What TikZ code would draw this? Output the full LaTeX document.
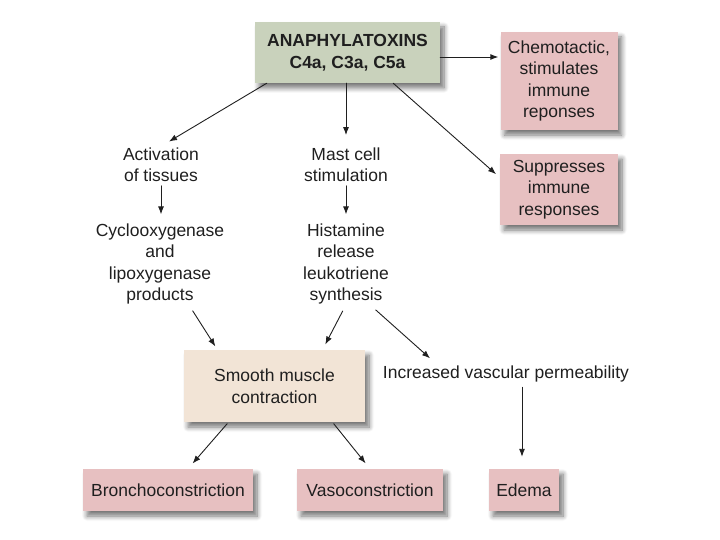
\documentclass[tikz,border=0pt]{standalone}
\usepackage{fontspec}
\setmainfont{Liberation Sans}
\usetikzlibrary{calc, positioning}
\usetikzlibrary{arrows.meta}
\usetikzlibrary{shadows.blur}

\begin{document}
\begin{tikzpicture}[x=1pt, y=-1pt, line join=round, line cap=round,
    txt/.style={align=center, inner sep=2pt, text=inkdark,
        font=\fontsize{17.5}{21.5}\selectfont},
    boxed/.style={txt, inner sep=0pt,
        blur shadow={shadow xshift=4pt, shadow yshift=-5pt,
            shadow blur steps=8, shadow blur radius=5pt,
            shadow opacity=55}},
    arr/.style={-{Latex[length=8pt, width=6pt]}, line width=0.9pt, inkdark}]
\colorlet{inkdark}{black!88}
\definecolor{boxgreen}{HTML}{C9D2BC}
\definecolor{boxpink}{HTML}{E7C0C1}
\definecolor{boxbeige}{HTML}{F2E4D6}

\useasboundingbox (0,0) rectangle (720,540);

% top row
\node[boxed, fill=boxgreen, minimum width=185pt, minimum height=61pt,
    font=\fontsize{17.5}{21.5}\selectfont\bfseries] (anaph) at (347.5,52.5)
    {ANAPHYLATOXINS\\C4a, C3a, C5a};
\node[boxed, fill=boxpink, minimum width=117pt, minimum height=98pt]
    (chemo) at (559,81) {Chemotactic,\\stimulates\\immune\\reponses};
\node[boxed, fill=boxpink, minimum width=118pt, minimum height=71pt]
    (supp) at (559,189.5) {Suppresses\\immune\\responses};

% middle columns
\node[txt] (act) at (161,164.5) {Activation\\of tissues};
\node[txt] (mast) at (346,164.5) {Mast cell\\stimulation};
\node[txt] (cyclo) at (160,264) {Cyclooxygenase\\and\\lipoxygenase\\products};
\node[txt] (hist) at (346,264) {Histamine\\release\\leukotriene\\synthesis};

% lower part
\node[boxed, fill=boxbeige, minimum width=181pt, minimum height=72pt]
    (smooth) at (274.5,386) {Smooth muscle\\contraction};
\node[txt] (incr) at (506,374) {Increased vascular permeability};
\node[boxed, fill=boxpink, minimum width=170pt, minimum height=42pt]
    (bronch) at (168,490) {Bronchoconstriction};
\node[boxed, fill=boxpink, minimum width=146pt, minimum height=42pt]
    (vaso) at (370,490) {Vasoconstriction};
\node[boxed, fill=boxpink, minimum width=70pt, minimum height=42pt]
    (edema) at (524,490) {Edema};

\draw[arr, shorten >=2pt] ([yshift=-4.5pt]anaph.east)
    -- ([yshift=-4.5pt]anaph.east -| chemo.west);
\draw[arr, shorten >=7pt] ([xshift=12pt]anaph.south west)
    -- ([xshift=2pt]act.north);
\draw[arr, shorten >=10pt] (anaph.south -| mast.north) -- (mast.north);
\draw[arr, shorten >=5pt] ([xshift=-47pt]anaph.south east)
    -- ([yshift=12pt]supp.west);

\draw[arr, shorten <=2pt, shorten >=7pt] (act.south) -- (act.south |- cyclo.north);
\draw[arr, shorten <=2pt, shorten >=7pt] (mast.south) -- (mast.south |- hist.north);

\draw[arr, shorten <=5pt, shorten >=4pt] ([xshift=30pt]cyclo.south)
    -- ([xshift=-57pt]smooth.north);
\draw[arr, shorten <=5pt, shorten >=6pt] ([xshift=-1pt]hist.south)
    -- ([xshift=48pt]smooth.north);
\draw[arr, shorten <=5pt, shorten >=8pt] ([xshift=26pt]hist.south)
    -- ([xshift=-70pt]incr.north);

\draw[arr, shorten <=2pt, shorten >=7pt] ([xshift=-46pt]smooth.south)
    -- ([xshift=20pt]bronch.north);
\draw[arr, shorten <=2pt, shorten >=7pt] ([xshift=58pt]smooth.south)
    -- (vaso.north);
\draw[arr, shorten <=3pt, shorten >=12pt] ([xshift=-2pt]incr.south -| edema.north)
    -- ([xshift=-2pt]edema.north);
\end{tikzpicture}
\end{document}
